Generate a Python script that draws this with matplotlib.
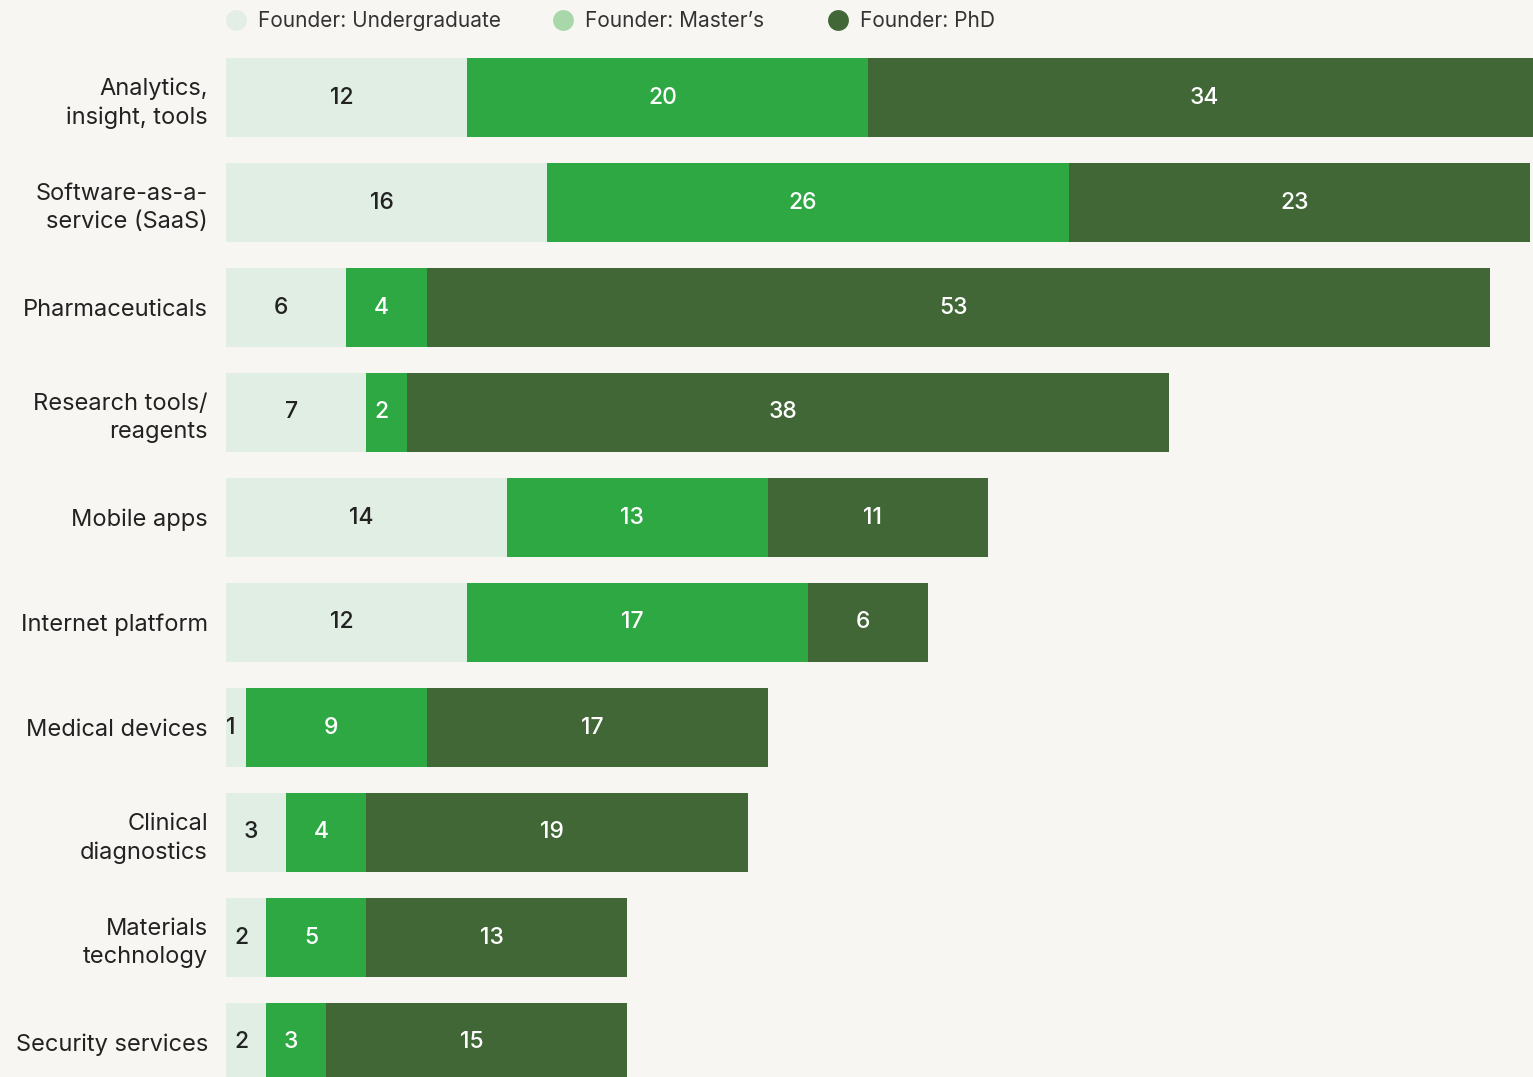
import matplotlib
matplotlib.use("Agg")
import matplotlib.pyplot as plt
from matplotlib.lines import Line2D
from matplotlib.transforms import offset_copy

# data
categories = ["Analytics,\ninsight, tools", "Software-as-a-\nservice (SaaS)", "Pharmaceuticals",
              "Research tools/\nreagents", "Mobile apps", "Internet platform", "Medical devices",
              "Clinical\ndiagnostics", "Materials\ntechnology", "Security services"]
undergrad = [12, 16, 6, 7, 14, 12, 1, 3, 2, 2]
masters = [20, 26, 4, 2, 13, 17, 9, 4, 5, 3]
phd = [34, 23, 53, 38, 11, 6, 17, 19, 13, 15]
series_names = ["Founder: Undergraduate", "Founder: Master\u2019s", "Founder: PhD"]

bg = "#f7f6f2"
bar_cols = ["#e1eee3", "#2ea843", "#406735"]
legend_cols = ["#e3efe6", "#a8d8a9", "#406735"]
text_cols = ["#222222", "white", "white"]

plt.rcParams['font.family'] = ['Inter', 'DejaVu Sans']

W, H = 1533, 1077
fig = plt.figure(figsize=(W/100, H/100), dpi=100, facecolor=bg)
ax = fig.add_axes([226/W, 0, 1 - 226/W, 1])
ax.set_facecolor(bg)

# value labels sit a few pixels left of centre in the original
shifted = offset_copy(ax.transData, fig=fig, x=-5, y=0, units="dots")

y = list(range(len(categories)))
left = [0]*len(categories)
for vals, col, tc in zip([undergrad, masters, phd], bar_cols, text_cols):
    ax.barh(y, vals, left=left, height=0.76, color=col, linewidth=0)
    for i, v in enumerate(vals):
        ax.text(left[i] + v/2, i, str(v), ha="center", va="center", transform=shifted,
                fontsize=16.5, color=tc, fontweight="medium")
    left = [l + v for l, v in zip(left, vals)]

ax.set_xlim(0, 1307/20.06)
ax.set_ylim((H - 97.5)/105, -97.5/105)
ax.set_yticks(y)
ax.set_yticklabels(categories, fontsize=17, color="#222222", linespacing=1.38)
ax.tick_params(axis="y", length=0, pad=13)
ax.set_xticks([])
for s in ax.spines.values():
    s.set_visible(False)

# legend entries placed one by one, as in the original
legend_x = [215, 542, 817]
for name, c, lx in zip(series_names, legend_cols, legend_x):
    h = Line2D([], [], marker="o", linestyle="", markersize=15, markerfacecolor=c,
               markeredgewidth=0)
    fig.legend([h], [name], loc="center left", bbox_to_anchor=(lx/W, 1 - 21/H),
               frameon=False, fontsize=15, handletextpad=0.05, borderpad=0,
               borderaxespad=0, labelcolor="#333333")

fig.savefig("out.png", dpi=100, facecolor=bg)
